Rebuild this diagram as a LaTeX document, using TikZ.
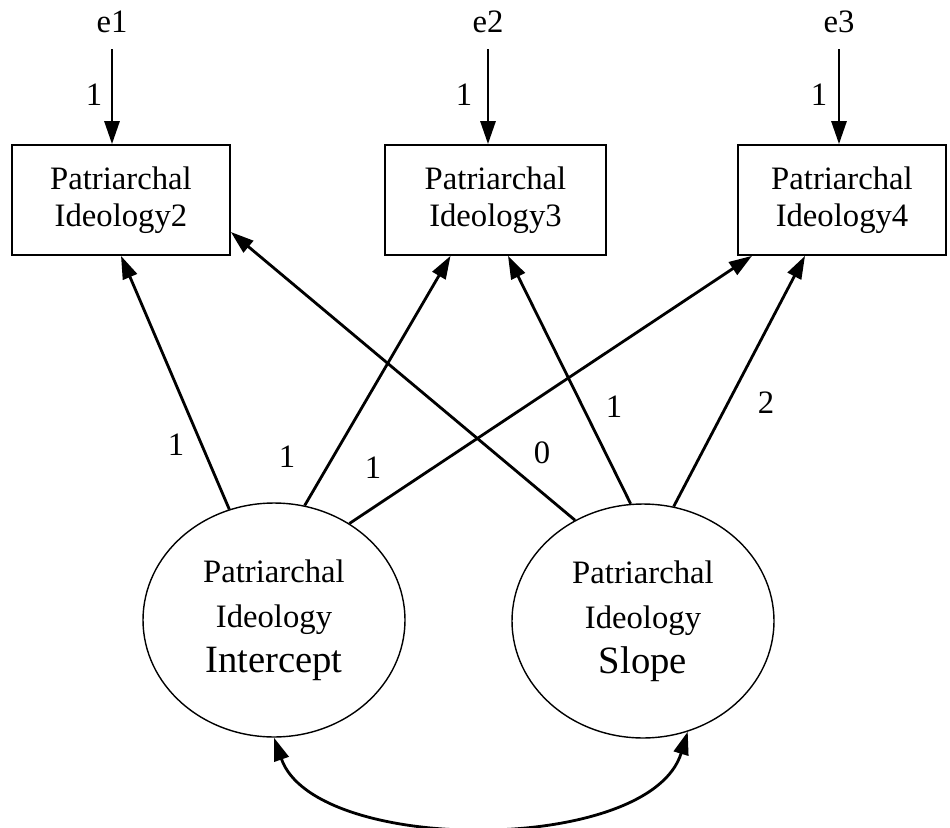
\documentclass[tikz,border=0pt]{standalone}
\usepackage{fontspec}
\setmainfont{Liberation Serif}
\usetikzlibrary{shapes.geometric,arrows.meta}

\tikzset{
    >={Triangle[length=4.6mm,width=3mm]},
    obsbox/.style={draw,line width=1pt,rectangle,minimum height=2.2cm,inner sep=0pt,align=center,font=\fontsize{18.6}{21}\selectfont},
    latent/.style={draw,line width=0.8pt,ellipse,minimum width=5.24cm,minimum height=4.68cm,inner sep=0pt,align=center,font=\fontsize{18.6}{25.5}\selectfont},
    regarrow/.style={line width=1.6pt,->},
    lbl/.style={inner sep=0pt,font=\fontsize{18.6}{21}\selectfont}
}

\begin{document}
\begin{tikzpicture}[x=0.02cm,y=-0.02cm]
    \useasboundingbox (0,0) rectangle (950,828);
    \node[obsbox,minimum width=4.36cm](pi2) at (121,200) {Patriarchal\\Ideology2};
    \node[obsbox,minimum width=4.42cm](pi3) at (495.5,200) {Patriarchal\\Ideology3};
    \node[obsbox,minimum width=4.16cm](pi4) at (842,200) {Patriarchal\\Ideology4};
    \node[lbl](e1) at (112,22) {e1};
    \node[lbl](e2) at (488,22) {e2};
    \node[lbl](e3) at (839,22) {e3};
    \draw[regarrow,shorten <=0.32cm](e1.south)--(e1.south |- pi2.north);
    \draw[regarrow,shorten <=0.32cm](e2.south)--(e2.south |- pi3.north);
    \draw[regarrow,shorten <=0.32cm](e3.south)--(e3.south |- pi4.north);
    \node[lbl](w1) at (94,95) {1};
    \node[lbl](w2) at (464,95) {1};
    \node[lbl](w3) at (819,95) {1};
    \node[latent](icpt) at (274,620) {Patriarchal\\Ideology\\{\fontsize{22}{26}\selectfont Intercept}};
    \node[latent](slope) at (643,621) {Patriarchal\\Ideology\\{\fontsize{22}{26}\selectfont Slope}};
    \draw[regarrow](icpt.112.7)--(pi2.south);
    \draw[regarrow](icpt.75.1)--([xshift=-0.9cm]pi3.south);
    \draw[regarrow](icpt.52.7)--([xshift=-1.8cm]pi4.south);
    \draw[regarrow](slope.124.5)--([yshift=-0.64cm]pi2.east);
    \draw[regarrow](slope.96.4)--([xshift=0.25cm]pi3.south);
    \draw[regarrow](slope.75.3)--([xshift=-0.74cm]pi4.south);
    \node[lbl](l1) at (176,445) {1};
    \node[lbl](l2) at (287,457) {1};
    \node[lbl](l3) at (373,468) {1};
    \node[lbl](l4) at (542,453) {0};
    \node[lbl](l5) at (614,407) {1};
    \node[lbl](l6) at (766,403) {2};
    %covariance
    \draw[line width=1.6pt,<->](icpt.south)..controls(315,855)and(650,855)..(slope.-68);
\end{tikzpicture}
\end{document}
